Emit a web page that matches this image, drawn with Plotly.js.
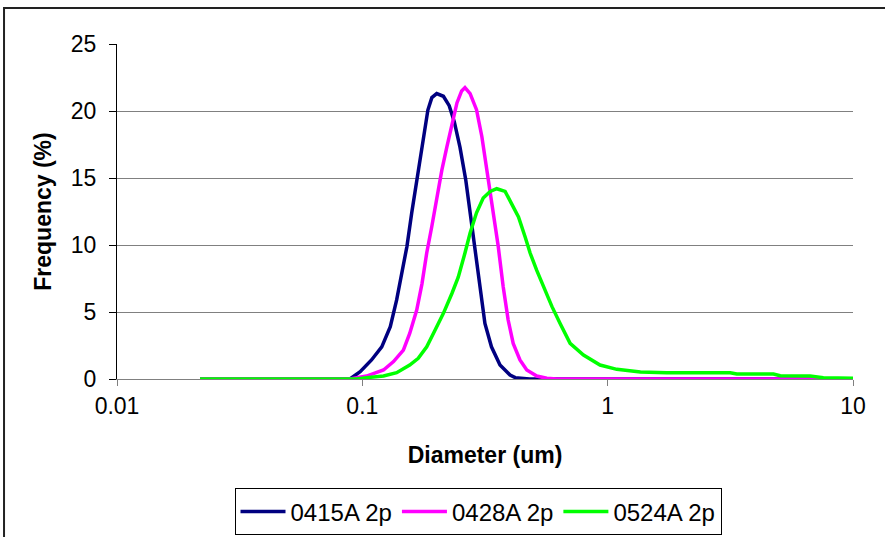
<!DOCTYPE html>
<html>
<head>
<meta charset="utf-8">
<script src="https://cdn.plot.ly/plotly-3.0.1.min.js"></script>
<style>html,body{margin:0;padding:0;background:#fff;}#chart{width:885px;height:537px;}</style>
</head>
<body>
<div id="chart"></div>
<script>
// Series: 0415A 2p (navy)
var x0415 = [0.0218, 0.089, 0.098, 0.109, 0.120, 0.130, 0.138, 0.145, 0.152, 0.159, 0.1666, 0.175, 0.180, 0.185, 0.192, 0.201, 0.214, 0.226, 0.237, 0.250, 0.264, 0.275, 0.288, 0.302, 0.316, 0.336, 0.364, 0.400, 0.420, 0.48, 10];
var y0415 = [0, 0, 0.54, 1.42, 2.4, 3.9, 5.9, 7.9, 9.9, 12.4, 14.85, 17.3, 18.8, 20.07, 21.0, 21.3, 21.1, 20.4, 19.2, 17.3, 14.85, 12.4, 9.4, 6.4, 4.15, 2.4, 1.04, 0.3, 0.1, 0, 0];
// Series: 0428A 2p (magenta)
var x0428 = [0.0218, 0.089, 0.104, 0.122, 0.134, 0.147, 0.156, 0.1666, 0.175, 0.183, 0.192, 0.201, 0.211, 0.221, 0.232, 0.243, 0.254, 0.262, 0.275, 0.292, 0.307, 0.316, 0.327, 0.342, 0.358, 0.375, 0.393, 0.412, 0.439, 0.468, 0.514, 0.565, 0.62, 10];
var y0428 = [0, 0, 0.22, 0.67, 1.3, 2.16, 3.4, 5.15, 7.1, 9.4, 11.4, 13.6, 15.6, 17.3, 19.1, 20.6, 21.5, 21.75, 21.3, 20.1, 18.1, 16.6, 14.85, 12.4, 9.9, 6.9, 4.4, 2.66, 1.42, 0.67, 0.22, 0.05, 0, 0];
// Series: 0524A 2p (green)
var x0524 = [0.0218, 0.095, 0.104, 0.122, 0.138, 0.156, 0.169, 0.183, 0.198, 0.214, 0.232, 0.246, 0.262, 0.275, 0.292, 0.311, 0.332, 0.353, 0.382, 0.406, 0.433, 0.461, 0.483, 0.514, 0.547, 0.593, 0.640, 0.703, 0.797, 0.931, 1.09, 1.36, 1.74, 3.16, 3.36, 4.74, 5.05, 6.68, 7.57, 10];
var y0524 = [0, 0, 0.1, 0.22, 0.47, 1.04, 1.54, 2.4, 3.66, 4.9, 6.4, 7.6, 9.4, 10.9, 12.4, 13.5, 14.0, 14.2, 14.0, 13.1, 12.1, 10.6, 9.4, 8.1, 6.9, 5.4, 4.15, 2.66, 1.79, 1.04, 0.72, 0.52, 0.47, 0.47, 0.37, 0.37, 0.25, 0.22, 0.1, 0.05];

var seriesNames = ['0415A 2p', '0428A 2p', '0524A 2p'];
var xTickVals = [0.01, 0.1, 1, 10];
var xTickText = ['0.01', '0.1', '1', '10'];

var FONT = '"Liberation Sans", Arial, sans-serif';

var traces = [
  {x: x0415, y: y0415, name: seriesNames[0], mode: 'lines', line: {color: '#000080', width: 3.5}},
  {x: x0428, y: y0428, name: seriesNames[1], mode: 'lines', line: {color: '#FF00FF', width: 3.5}},
  {x: x0524, y: y0524, name: seriesNames[2], mode: 'lines', line: {color: '#00FF00', width: 3.5}}
];

var layout = {
  width: 885, height: 537,
  margin: {l: 117, r: 32, t: 44, b: 158},
  paper_bgcolor: '#ffffff', plot_bgcolor: '#ffffff',
  font: {family: FONT, color: '#000', size: 23},
  showlegend: true,
  legend: {
    orientation: 'h', xref: 'paper', x: 0.4905, xanchor: 'center',
    yref: 'container', y: 0.0466, yanchor: 'middle',
    bordercolor: '#000', borderwidth: 1, font: {family: FONT, size: 24, color: '#000'},
    itemwidth: 45, tracegroupgap: 0
  },
  xaxis: {
    type: 'log', range: [-2, 1], tickvals: xTickVals, ticktext: xTickText,
    showgrid: false, zeroline: false, showline: true, linecolor: '#808080', linewidth: 1,
    ticks: 'outside', ticklen: 6, tickcolor: '#808080', tickwidth: 1,
    tickfont: {family: FONT, size: 23, color: '#000'},
    ticklabelstandoff: 0,
    title: {text: '<b>Diameter (um)</b>', font: {family: FONT, size: 23, color: '#000'}, standoff: 29},
    automargin: false
  },
  yaxis: {
    range: [0, 25], dtick: 5, tick0: 0,
    showgrid: true, gridcolor: '#808080', gridwidth: 1, zeroline: false,
    showline: true, linecolor: '#000', linewidth: 1,
    ticks: 'outside', ticklen: 7, tickcolor: '#000', tickwidth: 1,
    tickfont: {family: FONT, size: 23, color: '#000'},
    ticklabelstandoff: 8,
    title: {text: '<b>Frequency (%)</b>', font: {family: FONT, size: 23, color: '#000'}, standoff: 12},
    automargin: false
  },
  shapes: [{
    type: 'rect', xref: 'paper', yref: 'paper',
    x0: -0.1535, x1: 1.08, y0: -0.56, y1: 1.1075,
    line: {color: '#222', width: 2}, fillcolor: 'rgba(0,0,0,0)', layer: 'below'
  }]
};

Plotly.newPlot('chart', traces, layout, {displayModeBar: false, staticPlot: true});
</script>
</body>
</html>
